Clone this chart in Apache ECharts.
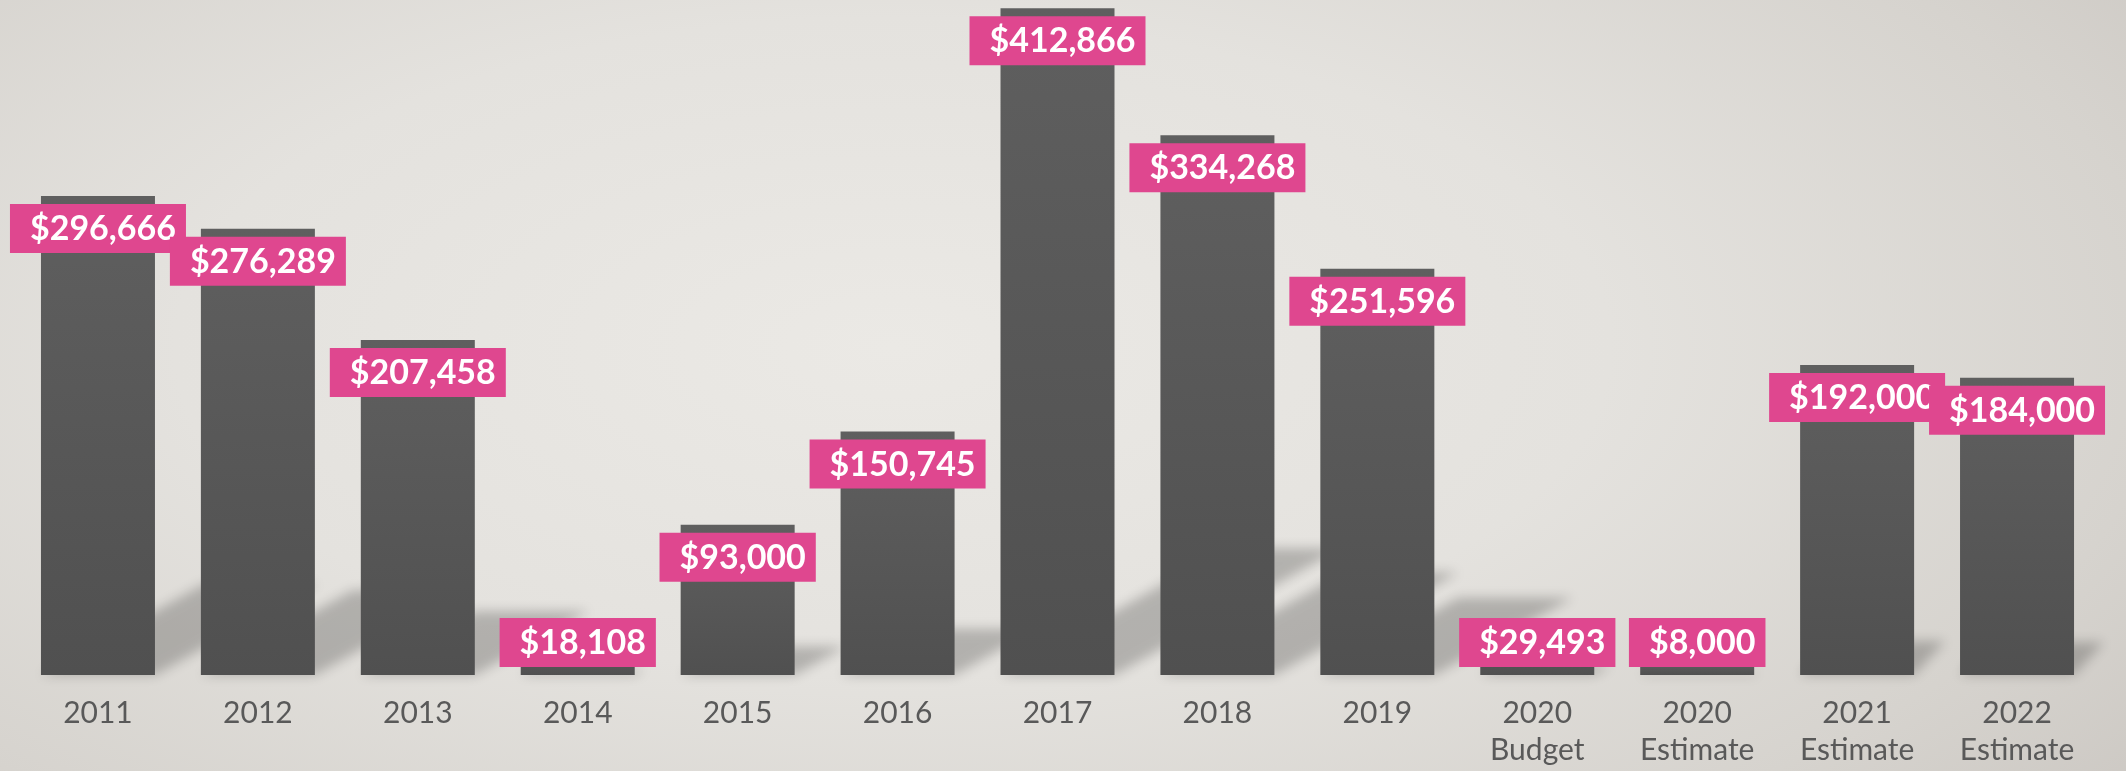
<!DOCTYPE html>
<html>
<head>
<meta charset="utf-8">
<script src="https://cdn.jsdelivr.net/npm/echarts@6/dist/echarts.min.js"></script>
<style>
  html, body { margin:0; padding:0; width:2126px; height:771px; overflow:hidden; }
  #chart { width:2126px; height:771px;
    background: radial-gradient(ellipse 75% 95% at 42% 45%, #ebe9e5 0%, #e4e2de 45%, #d6d3ce 80%, #ccc8c3 100%); }
</style>
</head>
<body>
<div id="chart"></div>
<script>
const categories = ['2011','2012','2013','2014','2015','2016','2017','2018','2019',
  '2020\nBudget','2020\nEstimate','2021\nEstimate','2022\nEstimate'];
const values = [296666, 276289, 207458, 18108, 93000, 150745, 412866, 334268, 251596, 29493, 8000, 192000, 184000];

const BAR_W = 114;
const chart = echarts.init(document.getElementById('chart'), null, {renderer:'canvas'});

function fmt(v){ return '$' + v.toLocaleString('en-US'); }

const barData = values.map(v => ({
  value: v,
  label: { position: v < 40000 ? 'insideBottom' : 'insideTop' }
}));

chart.setOption({
  backgroundColor: 'transparent',
  animation: false,
  grid: { left: 18, right: 29, top: 0, bottom: 96 },
  xAxis: {
    type: 'category', data: categories,
    axisLine: { show: false }, axisTick: { show: false },
    axisLabel: { color: '#595959', fontFamily: 'Lato', fontSize: 30, lineHeight: 37, margin: 20, interval: 0 }
  },
  yAxis: { type: 'value', min: 0, max: 418000, show: false, splitLine: { show: false } },
  series: [
    {
      type: 'custom', z: 1, silent: true,
      data: values.map((v, i) => [i, v]),
      renderItem: function (params, api) {
        const base = api.coord([api.value(0), 0]);
        const top = api.coord([api.value(0), api.value(1)]);
        const H = base[1] - top[1];
        const OFF = 5000;
        const far = base[0] > 1700;
        const k = far ? 0.1 : 0.34, s = far ? 0.11 : 0.19;
        const x0 = base[0] - BAR_W / 2 - OFF, x1 = base[0] + BAR_W / 2 - OFF;
        return {
          type: 'polygon',
          shape: { points: [[x0, base[1]], [x1, base[1]], [x1 + k * H, base[1] - s * H], [x0 + k * H, base[1] - s * H]] },
          style: { fill: '#000', shadowBlur: 12, shadowColor: 'rgba(0,0,0,0.22)', shadowOffsetX: OFF, shadowOffsetY: 0 }
        };
      }
    },
    {
      type: 'bar', z: 2,
      data: barData,
      barWidth: BAR_W,
      itemStyle: {
        color: { type: 'linear', x: 0, y: 0, x2: 0, y2: 1,
          colorStops: [{ offset: 0, color: '#5f5f5f' }, { offset: 1, color: '#505050' }] }
      },
      label: {
        show: true, distance: 8,
        formatter: p => fmt(p.value),
        color: '#ffffff', fontFamily: 'Lato', fontWeight: 'bold', fontSize: 34, lineHeight: 34,
        backgroundColor: '#df478f', padding: [8, 10, 7, 20]
      }
    }
  ]
});
</script>
</body>
</html>
